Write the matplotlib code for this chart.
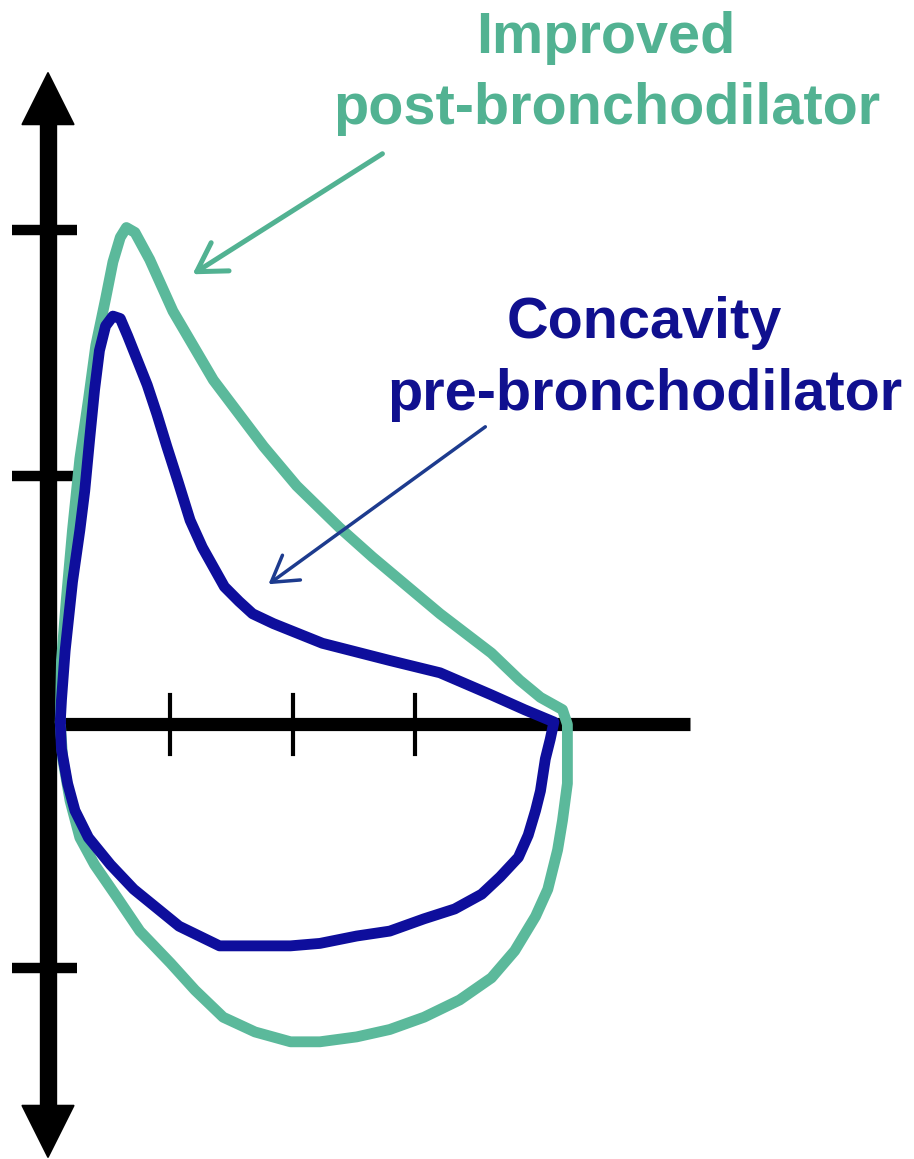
import matplotlib
matplotlib.use("Agg")
import matplotlib.pyplot as plt
from matplotlib.patches import Polygon

# flow-volume loops, volume in L (x), flow in L/s (y)
post_volume = [0.10, 0.11, 0.15, 0.20, 0.26, 0.33, 0.39, 0.47, 0.53, 0.59, 0.64, 0.71, 0.83,
               1.02, 1.35, 1.76, 2.03, 2.38, 2.65, 3.20, 3.62, 3.85, 4.02, 4.20, 4.24,
               4.24, 4.24, 4.20, 4.16, 4.08, 3.98, 3.81, 3.62, 3.36, 3.07, 2.79, 2.52, 2.22,
               1.98, 1.69, 1.43, 1.20, 1.00, 0.75, 0.56, 0.38, 0.26, 0.18, 0.12, 0.10]
post_flow = [0.00, 0.25, 0.50, 0.78, 1.07, 1.31, 1.53, 1.72, 1.87, 1.97, 2.01, 1.99, 1.88,
             1.67, 1.39, 1.12, 0.96, 0.79, 0.67, 0.44, 0.28, 0.17, 0.10, 0.05, -0.01,
             -0.15, -0.25, -0.40, -0.52, -0.68, -0.79, -0.93, -1.04, -1.13, -1.20, -1.25, -1.28, -1.30,
             -1.30, -1.26, -1.20, -1.09, -0.98, -0.85, -0.71, -0.58, -0.47, -0.32, -0.15, 0.00]

pre_volume = [0.10, 0.11, 0.14, 0.20, 0.26, 0.30, 0.34, 0.38, 0.42, 0.47, 0.53, 0.59, 0.65,
              0.73, 0.81, 0.89, 0.97, 1.06, 1.16, 1.26, 1.35, 1.44, 1.56, 1.67, 1.84, 2.24,
              2.79, 3.20, 3.62, 3.89, 4.13, 4.10, 4.06, 4.02, 3.98, 3.92, 3.84, 3.69, 3.54,
              3.32, 3.07, 2.79, 2.52, 2.22, 1.98, 1.65, 1.40, 1.07, 0.70, 0.51, 0.33, 0.22,
              0.16, 0.11, 0.10]
pre_flow = [0.00, 0.09, 0.29, 0.57, 0.78, 0.94, 1.15, 1.35, 1.51, 1.61, 1.65, 1.64, 1.57,
            1.47, 1.37, 1.25, 1.12, 0.98, 0.82, 0.71, 0.63, 0.55, 0.49, 0.44, 0.40, 0.32,
            0.25, 0.20, 0.11, 0.05, 0.00, -0.07, -0.15, -0.28, -0.36, -0.46, -0.55, -0.63, -0.70,
            -0.76, -0.80, -0.85, -0.87, -0.90, -0.91, -0.91, -0.91, -0.83, -0.68, -0.58, -0.47, -0.36,
            -0.25, -0.11, 0.00]

x_ticks = [1, 2, 3]
y_ticks = [2, 1, -1]

green = "#5bb99b"
green_text = "#52b292"
blue = "#0e0e9c"
blue_text = "#10108f"
arrow_blue = "#1d3b8e"

# pixel scale of the sketch: 122.5 px per L, 246 px per L/s
fig = plt.figure(figsize=(9.14, 11.59), dpi=100)
ax = fig.add_axes([0, 0, 1, 1])
ax.set_xlim(-48 / 122.5, 866 / 122.5)
ax.set_ylim(-437 / 246, 722 / 246)
ax.set_axis_off()

# hand drawn axes
y_top, y_bot = 2.64, -1.77
head_len, head_half = 52 / 246, 26 / 122.5
ax.plot([0, 0], [y_bot + head_len * 0.9, y_top - head_len * 0.9], color="black", lw=12.5,
        solid_capstyle="butt")
ax.add_patch(Polygon([[0, y_top], [-head_half, y_top - head_len], [head_half, y_top - head_len]],
                     closed=True, color="black"))
ax.add_patch(Polygon([[0, y_bot], [-head_half, y_bot + head_len], [head_half, y_bot + head_len]],
                     closed=True, color="black"))
ax.plot([0, 5.24], [-0.01, -0.01], color="black", lw=9.5, solid_capstyle="butt")
for t in x_ticks:
    ax.plot([t, t], [0.11, -0.13], color="black", lw=3)
for t in y_ticks:
    ax.plot([-0.29, 0.24], [t, t], color="black", lw=7.5, solid_capstyle="butt")

ax.plot(post_volume, post_flow, color=green, lw=7.8, solid_joinstyle="round",
        solid_capstyle="round")
ax.plot(pre_volume, pre_flow, color=blue, lw=7.8, solid_joinstyle="round",
        solid_capstyle="round")

ax.annotate("", xy=(1.18, 1.82), xytext=(2.73, 2.31),
            arrowprops=dict(arrowstyle="->,head_length=1.0,head_width=0.6", color=green_text,
                            lw=3.6, mutation_scale=20, shrinkA=0, shrinkB=0))
ax.annotate("", xy=(1.80, 0.56), xytext=(3.57, 1.20),
            arrowprops=dict(arrowstyle="->,head_length=0.9,head_width=0.55", color=arrow_blue,
                            lw=2.5, mutation_scale=20, shrinkA=0, shrinkB=0))

font = dict(family="Liberation Sans", weight="bold", fontsize=41.5, ha="center", va="baseline")
ax.text(4.55, 2.72, "Improved", color=green_text, **font)
ax.text(4.56, 2.43, "post-bronchodilator", color=green_text, **font)
ax.text(4.87, 1.56, "Concavity", color=blue_text, **font)
ax.text(4.87, 1.27, "pre-bronchodilator", color=blue_text, **font)

fig.savefig("out.png", dpi=100, facecolor="white")
